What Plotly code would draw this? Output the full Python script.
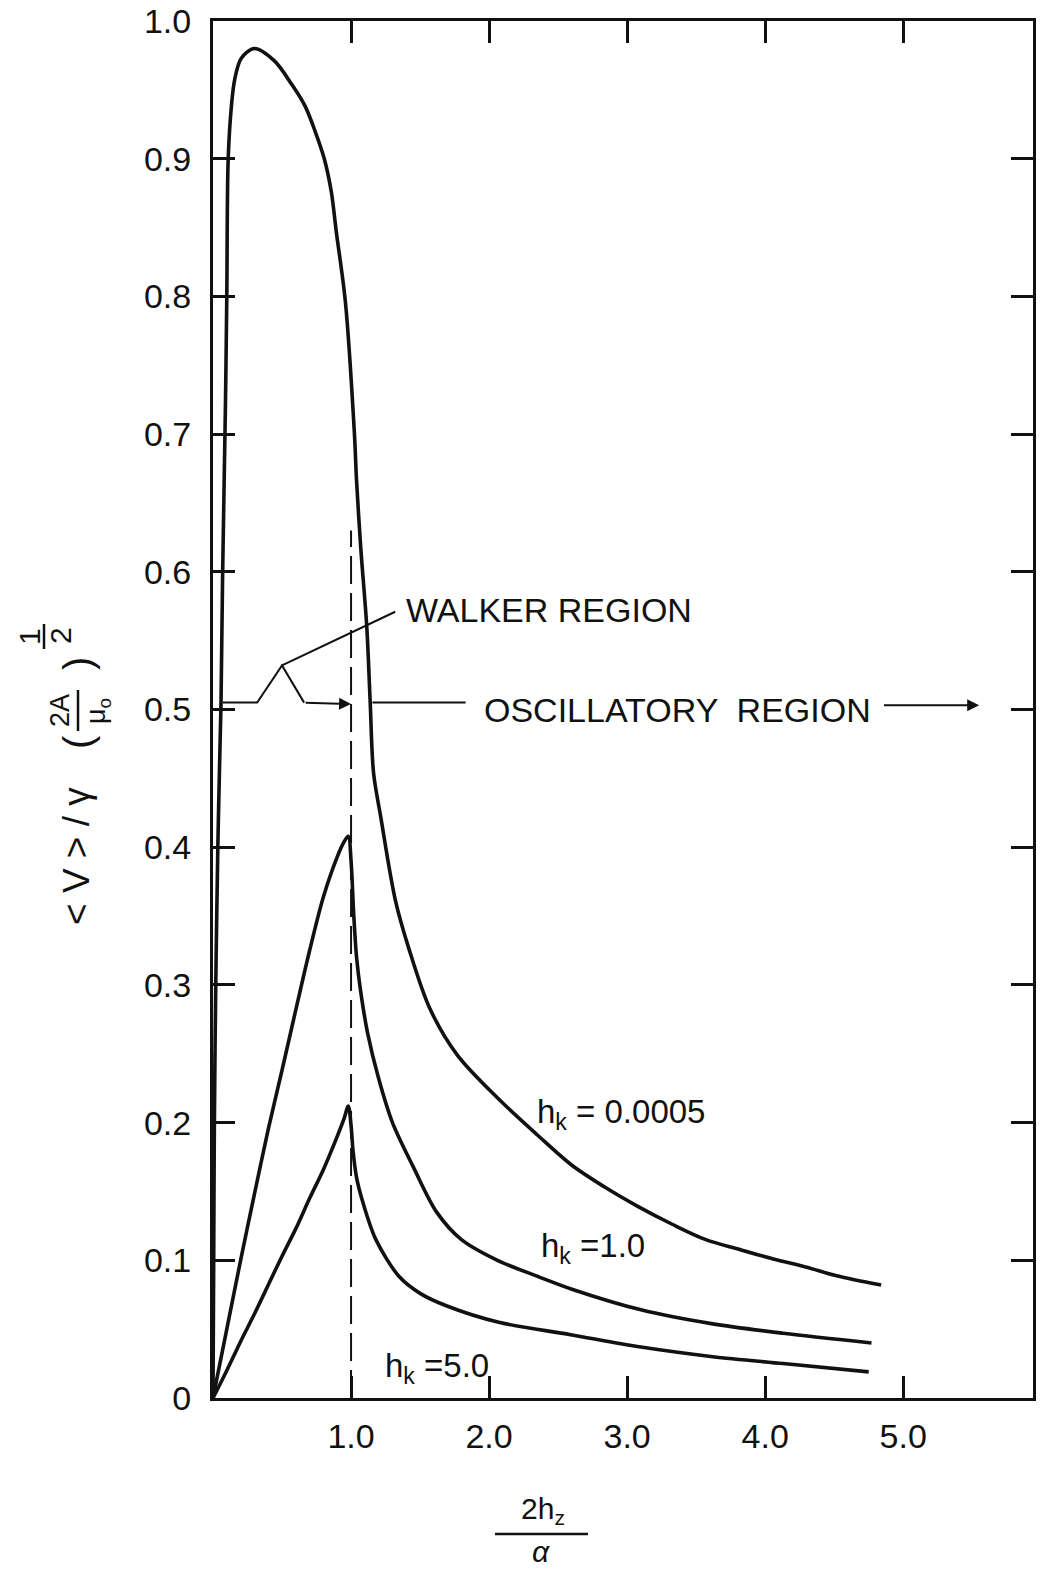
import plotly.graph_objects as go

# ---------------- data ----------------
x_hk0005 = [0.0, 0.005, 0.01, 0.02, 0.035, 0.05, 0.058, 0.07, 0.09, 0.10, 0.11, 0.135, 0.158,
            0.205, 0.30, 0.445, 0.57, 0.668, 0.743, 0.806, 0.857, 0.893, 0.959, 1.024, 1.04,
            1.07, 1.114, 1.138, 1.163, 1.215, 1.32, 1.42, 1.57, 1.77, 2.06, 2.35, 2.60, 2.84,
            3.08, 3.33, 3.57, 3.81, 4.06, 4.30, 4.51, 4.84]
y_hk0005 = [0.0, 0.10, 0.20, 0.30, 0.40, 0.47, 0.505, 0.60, 0.72, 0.80, 0.90, 0.94, 0.958,
            0.973, 0.980, 0.971, 0.954, 0.938, 0.919, 0.900, 0.876, 0.847, 0.796, 0.701, 0.666,
            0.618, 0.560, 0.507, 0.454, 0.422, 0.362, 0.326, 0.283, 0.249, 0.218, 0.191, 0.169,
            0.153, 0.139, 0.126, 0.115, 0.108, 0.101, 0.095, 0.089, 0.082]

x_hk1 = [0.0, 0.1, 0.2, 0.3, 0.4, 0.5, 0.6, 0.7, 0.8, 0.9, 0.95, 0.98, 1.0, 1.02, 1.04, 1.07,
         1.12, 1.2, 1.3, 1.45, 1.62, 1.8, 2.06, 2.36, 2.6, 3.10, 3.61, 4.13, 4.77]
y_hk1 = [0.0, 0.05, 0.10, 0.148, 0.195, 0.238, 0.282, 0.325, 0.364, 0.393, 0.404, 0.408, 0.39,
         0.35, 0.32, 0.295, 0.265, 0.232, 0.20, 0.168, 0.135, 0.115, 0.10, 0.088, 0.079, 0.064,
         0.054, 0.047, 0.040]

x_hk5 = [0.0, 0.1, 0.2, 0.3, 0.4, 0.5, 0.6, 0.7, 0.8, 0.9, 0.95, 0.98, 1.0, 1.014, 1.04, 1.083,
         1.18, 1.35, 1.5, 1.69, 2.07, 2.59, 3.10, 3.62, 4.13, 4.75]
y_hk5 = [0.0, 0.02, 0.041, 0.061, 0.082, 0.103, 0.123, 0.145, 0.166, 0.19, 0.203, 0.212, 0.198,
         0.18, 0.16, 0.143, 0.115, 0.088, 0.076, 0.067, 0.055, 0.046, 0.037, 0.030, 0.025, 0.019]

boundary_x = [1.0, 1.0]
boundary_y = [0.0, 0.63]

curve_labels = ["h<sub>k</sub> = 0.0005", "h<sub>k</sub> =1.0", "h<sub>k</sub> =5.0"]
label_x = [2.33, 2.36, 1.23]
label_y = [0.206, 0.109, 0.022]

x_tickvals = [1, 2, 3, 4, 5]
x_ticktext = ["1.0", "2.0", "3.0", "4.0", "5.0"]
y_tickvals = [0, 0.1, 0.2, 0.3, 0.4, 0.5, 0.6, 0.7, 0.8, 0.9, 1.0]
y_ticktext = ["0", "0.1", "0.2", "0.3", "0.4", "0.5", "0.6", "0.7", "0.8", "0.9", "1.0"]

# ---------------- figure ----------------
INK = "#111111"
FONT = "Liberation Sans"
W, H = 1051, 1574
ML, MR, MT, MB = 213, 18, 21, 176
PW, PH = W - ML - MR, H - MT - MB


def px(x):
    return (x - ML) / PW


def py(y):
    return (H - MB - y) / PH


fig = go.Figure()
for xs, ys in [(x_hk0005, y_hk0005), (x_hk1, y_hk1), (x_hk5, y_hk5)]:
    fig.add_trace(go.Scatter(x=xs, y=ys, mode="lines",
                             line=dict(color=INK, width=3.6, shape="spline", smoothing=0.9),
                             showlegend=False, hoverinfo="skip"))

fig.add_trace(go.Scatter(x=boundary_x, y=boundary_y, mode="lines",
                         line=dict(color=INK, width=2, dash="28px,9px"),
                         showlegend=False, hoverinfo="skip"))

annotations = []
for t, x, y in zip(curve_labels, label_x, label_y):
    annotations.append(dict(x=x, y=y, xref="x", yref="y", text=t, showarrow=False,
                            xanchor="left", yanchor="middle",
                            font=dict(family=FONT, size=33, color=INK)))

# region annotations
annotations.append(dict(x=1.38, y=0.572, xref="x", yref="y", text="WALKER REGION",
                        showarrow=False, xanchor="left", yanchor="middle",
                        font=dict(family=FONT, size=34, color=INK)))
annotations.append(dict(x=1.95, y=0.500, xref="x", yref="y", text="OSCILLATORY  REGION",
                        showarrow=False, xanchor="left", yanchor="middle",
                        font=dict(family=FONT, size=34, color=INK)))
annotations.append(dict(x=1.0, y=0.504, ax=0.66, ay=0.505, xref="x", yref="y", axref="x", ayref="y",
                        showarrow=True, arrowhead=2, arrowsize=1.2, arrowwidth=2, arrowcolor=INK, text=""))
annotations.append(dict(x=5.55, y=0.503, ax=4.85, ay=0.503, xref="x", yref="y", axref="x", ayref="y",
                        showarrow=True, arrowhead=2, arrowsize=1.2, arrowwidth=2, arrowcolor=INK, text=""))

shapes = [
    dict(type="path", xref="x", yref="y",
         path="M 0.07 0.505 L 0.32 0.505 L 0.50 0.532 L 0.66 0.505",
         line=dict(color=INK, width=2)),
    dict(type="line", xref="x", yref="y", x0=0.50, y0=0.532, x1=1.32, y1=0.571,
         line=dict(color=INK, width=2)),
    dict(type="line", xref="x", yref="y", x0=1.155, y0=0.505, x1=1.83, y1=0.505,
         line=dict(color=INK, width=2)),
]

# y-axis title, built from pieces (rotated)
rot = -90
annotations += [
    dict(x=px(76), y=py(856), xref="paper", yref="paper", text="&lt; V &gt; / γ", textangle=rot,
         showarrow=False, xanchor="center", yanchor="middle", font=dict(family=FONT, size=37, color=INK)),
    dict(x=px(78), y=py(742), xref="paper", yref="paper", text="(", textangle=rot,
         showarrow=False, xanchor="center", yanchor="middle", font=dict(family=FONT, size=40, color=INK)),
    dict(x=px(60), y=py(711), xref="paper", yref="paper", text="2A", textangle=rot,
         showarrow=False, xanchor="center", yanchor="middle", font=dict(family=FONT, size=27, color=INK)),
    dict(x=px(98), y=py(711), xref="paper", yref="paper", text="μ<sub>o</sub>", textangle=rot,
         showarrow=False, xanchor="center", yanchor="middle", font=dict(family=FONT, size=27, color=INK)),
    dict(x=px(78), y=py(664), xref="paper", yref="paper", text=")", textangle=rot,
         showarrow=False, xanchor="center", yanchor="middle", font=dict(family=FONT, size=40, color=INK)),
    dict(x=px(29), y=py(637), xref="paper", yref="paper", text="1", textangle=rot,
         showarrow=False, xanchor="center", yanchor="middle", font=dict(family=FONT, size=30, color=INK)),
    dict(x=px(60), y=py(636), xref="paper", yref="paper", text="2", textangle=rot,
         showarrow=False, xanchor="center", yanchor="middle", font=dict(family=FONT, size=30, color=INK)),
]
shapes += [
    dict(type="line", xref="paper", yref="paper", x0=px(78), x1=px(78), y0=py(690), y1=py(731),
         line=dict(color=INK, width=2.5)),
    dict(type="line", xref="paper", yref="paper", x0=px(44), x1=px(44), y0=py(624), y1=py(649),
         line=dict(color=INK, width=2.5)),
]

# x-axis title  2h_z / α
annotations += [
    dict(x=px(543), y=py(1510), xref="paper", yref="paper", text="2h<sub>z</sub>",
         showarrow=False, xanchor="center", yanchor="middle", font=dict(family=FONT, size=30, color=INK)),
    dict(x=px(541), y=py(1551), xref="paper", yref="paper", text="<i>α</i>",
         showarrow=False, xanchor="center", yanchor="middle", font=dict(family=FONT, size=30, color=INK)),
]
shapes.append(dict(type="line", xref="paper", yref="paper", x0=px(495), x1=px(588), y0=py(1534), y1=py(1534),
                   line=dict(color=INK, width=2.5)))

axis_common = dict(showgrid=False, zeroline=False, showline=True, linecolor=INK, linewidth=3,
                   mirror="ticks", ticks="inside", ticklen=22, tickwidth=2.5, tickcolor=INK,
                   automargin=False,
                   tickfont=dict(family=FONT, size=34, color=INK))

fig.update_layout(
    width=W, height=H,
    margin=dict(l=ML, r=MR, t=MT, b=MB, pad=0, autoexpand=False),
    paper_bgcolor="white", plot_bgcolor="white",
    xaxis=dict(range=[0, 5.94], tickvals=x_tickvals, ticktext=x_ticktext, ticklabelstandoff=6,
               **axis_common),
    yaxis=dict(range=[0, 1.0], tickvals=y_tickvals, ticktext=y_ticktext, ticklabelstandoff=12,
               **axis_common),
    annotations=annotations,
    shapes=shapes,
    showlegend=False,
)

fig.write_html("out.html", config={"displayModeBar": False},
               post_script="document.body.style.margin='0';document.body.style.overflow='hidden';")
